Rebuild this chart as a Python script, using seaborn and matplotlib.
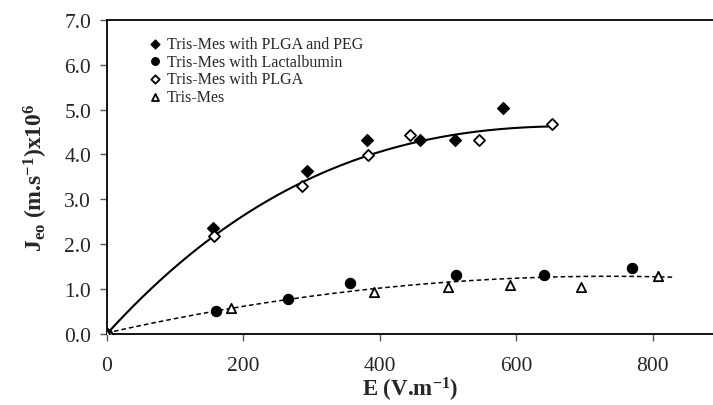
import numpy as np
import matplotlib
matplotlib.use("Agg")
import matplotlib.pyplot as plt
import seaborn as sns

# ---- data ----
plga_peg_x = [0, 156, 294, 382, 459, 510, 581]
plga_peg_y = [0, 2.36, 3.64, 4.33, 4.33, 4.33, 5.03]

lact_x = [0, 161, 265, 357, 512, 641, 770]
lact_y = [0, 0.51, 0.78, 1.14, 1.31, 1.31, 1.46]

plga_x = [0, 157, 286, 383, 444, 545, 652]
plga_y = [0, 2.18, 3.30, 3.99, 4.43, 4.32, 4.68]

tris_x = [0, 182, 391, 500, 591, 694, 807]
tris_y = [0, 0.59, 0.94, 1.04, 1.10, 1.04, 1.30]

labels = ["Tris-Mes with PLGA and PEG", "Tris-Mes with Lactalbumin",
          "Tris-Mes with PLGA", "Tris-Mes"]
x_ticks = [0, 200, 400, 600, 800]
y_ticks = [0.0, 1.0, 2.0, 3.0, 4.0, 5.0, 6.0, 7.0]

sns.set_theme(style="white")
plt.rcParams["font.family"] = ["Liberation Serif", "DejaVu Serif"]
plt.rcParams["mathtext.fontset"] = "custom"
plt.rcParams["mathtext.rm"] = "Liberation Serif:bold"
plt.rcParams["mathtext.it"] = "Liberation Serif:bold"
plt.rcParams["mathtext.bf"] = "Liberation Serif:bold"

fig = plt.figure(figsize=(7.13, 4.06), dpi=100)
ax = fig.add_axes([0.1494, 0.1749, 0.8506, 0.7741])

# trend lines fitted from the data
c_hi = np.polyfit(np.array(plga_x, float), np.array(plga_y, float), 3)
xs_hi = np.linspace(0, max(plga_x), 200)
sns.lineplot(x=xs_hi, y=np.polyval(c_hi, xs_hi), color="black", lw=1.5,
             ax=ax, sort=False)

lo_x = np.array(lact_x + tris_x, float)
lo_y = np.array(lact_y + tris_y, float)
c_lo = np.polyfit(lo_x, lo_y, 2)
xs_lo = np.linspace(0, 830, 200)
sns.lineplot(x=xs_lo, y=np.polyval(c_lo, xs_lo), color="black", lw=1.1,
             ax=ax, sort=False, dashes=False, linestyle=(0, (3, 2)))

# scatter series
sns.scatterplot(x=plga_peg_x, y=plga_peg_y, marker="D", s=38, color="black",
                edgecolor="black", linewidth=0.8, ax=ax, label=labels[0], zorder=5)
sns.scatterplot(x=lact_x, y=lact_y, marker="o", s=55, color="black",
                edgecolor="black", linewidth=0.8, ax=ax, label=labels[1], zorder=5)
sns.scatterplot(x=plga_x, y=plga_y, marker="D", s=32, facecolor="white",
                edgecolor="black", linewidth=1.3, ax=ax, label=labels[2], zorder=5)
sns.scatterplot(x=tris_x, y=tris_y, marker="^", s=45, facecolor="white",
                edgecolor="black", linewidth=1.3, ax=ax, label=labels[3], zorder=5)

ax.set_xlim(0, 888)
ax.set_ylim(0, 7.0)
ax.set_xticks(x_ticks)
ax.set_xticklabels([str(v) for v in x_ticks], fontsize=15.5)
ax.set_yticks(y_ticks)
ax.set_yticklabels([f"{v:.1f}" for v in y_ticks], fontsize=15.5)
ax.tick_params(axis="both", direction="out", length=5, width=1, color="#555555",
               bottom=True, left=True)
ax.tick_params(axis="x", pad=11)
ax.tick_params(axis="y", pad=6)

for side in ["left", "bottom", "top"]:
    ax.spines[side].set_visible(True)
    ax.spines[side].set_color("black")
    ax.spines[side].set_linewidth(1.3)
ax.spines["right"].set_visible(False)

ax.set_xlabel(r"E (V.m$^{-1}$)", fontsize=16.5, fontweight="bold", labelpad=0)
ax.set_ylabel(r"J$_{eo}$ (m.s$^{-1}$)x10$^{6}$", fontsize=17,
              fontweight="bold", labelpad=10)

leg = ax.legend(loc="upper left", bbox_to_anchor=(0.056, 0.969), frameon=False,
                fontsize=11.5, handletextpad=0.25, labelspacing=0.11,
                borderaxespad=0, handlelength=1.0, markerscale=0.75)

fig.savefig("out.png", dpi=100)
